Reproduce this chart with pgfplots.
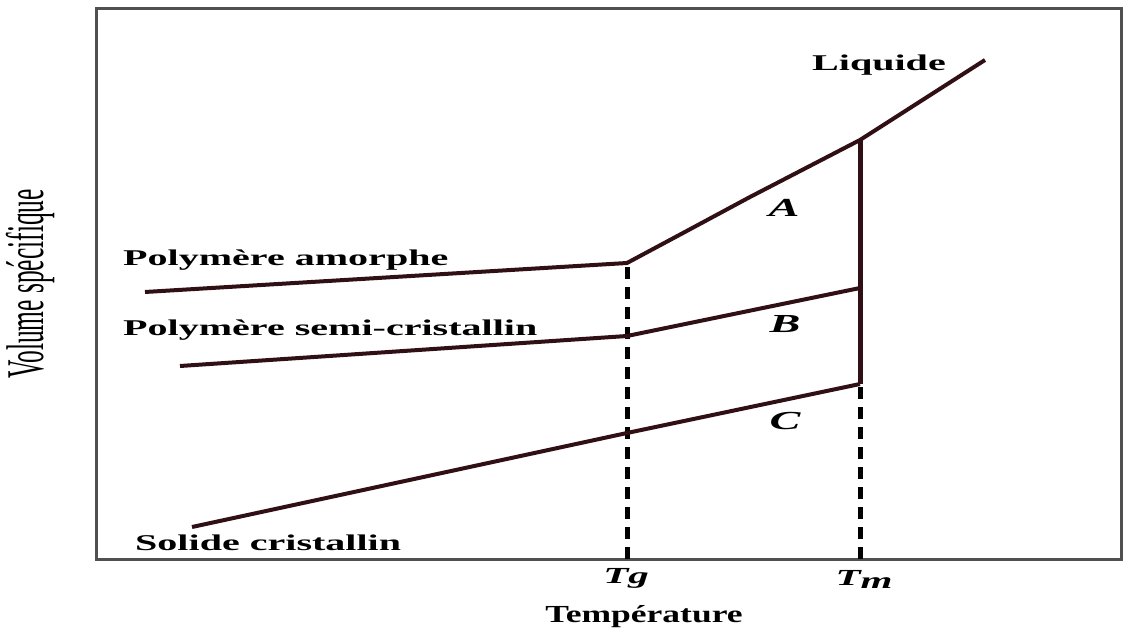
\documentclass[border=0pt]{standalone}
\usepackage{pgfplots}
\pgfplotsset{compat=1.18}
\usepackage{fontspec}
\setmainfont{Liberation Serif}
% wide serif for the curve labels, narrow tall one for the vertical title
\newfontfamily\lbl[FakeStretch=1.78]{Liberation Serif}
\newfontfamily\tlbl[FakeStretch=1.45]{Liberation Serif}
\newfontfamily\ylbl[FakeStretch=0.48]{Liberation Serif}
\definecolor{curve}{RGB}{48,16,20}
\definecolor{frame}{RGB}{80,80,80}

\pgfplotstableread{
x y
145 338
627 367
683 397
750 433
860 490
985 570
}\amorphe
\pgfplotstableread{
x y
180 264
627 294
860 342
}\semicrist
\pgfplotstableread{
x y
192 103
627 197
860 246
}\cristal

\begin{document}
\begin{tikzpicture}
\begin{axis}[
  scale only axis,
  width=1024bp, height=550bp,
  xmin=97, xmax=1121, ymin=71, ymax=621,
  axis line style={frame, line width=3bp},
  xtick=\empty, ytick=\empty,
  clip=false,
]
% canvas extent
\path (axis cs:0,0) rectangle (axis cs:1125,630);

% glass-transition and melting temperatures
\addplot[black, line width=5bp, dash pattern=on 12bp off 8bp] coordinates {(627,71) (627,367)};
\addplot[black, line width=5bp, dash pattern=on 12bp off 8bp] coordinates {(860,71) (860,246)};

% specific-volume curves
\addplot[curve, line width=4bp, line join=round] table {\amorphe};
\addplot[curve, line width=4bp, line join=round] table {\semicrist};
\addplot[curve, line width=4bp, line join=round] table {\cristal};
\addplot[curve, line width=5bp] coordinates {(860,246) (860,490)};

% curve labels
\node[anchor=base] at (axis cs:879,559) {\lbl\bfseries\fontsize{22.5bp}{26bp}\selectfont Liquide};
\node[anchor=base west, inner sep=0pt] at (axis cs:123,364) {\lbl\bfseries\fontsize{22.5bp}{26bp}\selectfont Polymère amorphe};
\node[anchor=base west, inner sep=0pt] at (axis cs:123,294) {\lbl\bfseries\fontsize{22.5bp}{26bp}\selectfont Polymère semi-cristallin};
\node[anchor=base west, inner sep=0pt] at (axis cs:135,80) {\lbl\bfseries\fontsize{22.5bp}{26bp}\selectfont Solide cristallin};

\node at (axis cs:784,422) {\lbl\bfseries\itshape\fontsize{26bp}{28bp}\selectfont A};
\node at (axis cs:785,306) {\lbl\bfseries\itshape\fontsize{26bp}{28bp}\selectfont B};
\node at (axis cs:785,209) {\lbl\bfseries\itshape\fontsize{26bp}{28bp}\selectfont C};

% temperature marks and axis titles
\node at (axis cs:626,52) {\lbl\bfseries\itshape\fontsize{23bp}{26bp}\selectfont Tg};
\node at (axis cs:864,51) {\lbl\bfseries\itshape\fontsize{23bp}{26bp}\selectfont T\raisebox{-3bp}{m}};
\node[anchor=base] at (axis cs:644,8) {\tlbl\bfseries\fontsize{24.5bp}{28bp}\selectfont Température};
\node[rotate=90] at (axis cs:30,346) {\ylbl\fontsize{53bp}{56bp}\selectfont Volume spécifique};
\end{axis}
\end{tikzpicture}
\end{document}
